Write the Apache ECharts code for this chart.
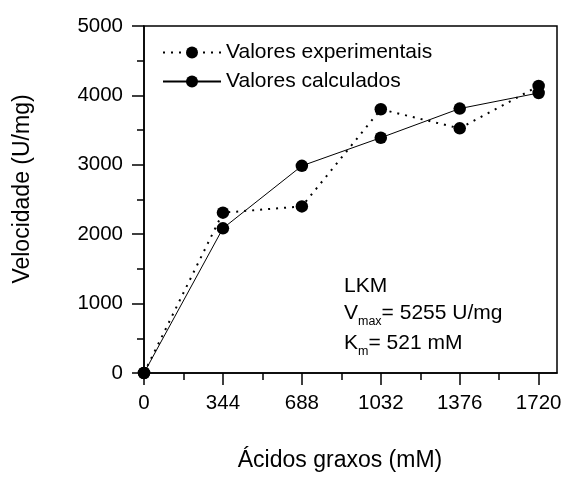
<!DOCTYPE html>
<html>
<head>
<meta charset="utf-8">
<script src="https://cdn.jsdelivr.net/npm/echarts@6/dist/echarts.min.js"></script>
<style>
  html, body { margin: 0; padding: 0; background: #fff; }
  #chart { width: 565px; height: 478px; }
</style>
</head>
<body>
<div id="chart"></div>
<script>
// Fatty-acid concentration (mM) and reaction velocity (U/mg)
const concentrations = [0, 344, 688, 1032, 1376, 1720];
const experimental = [0, 2310, 2400, 3800, 3525, 4135];
const calculated = [0, 2085, 2985, 3390, 3810, 4035];
const xMajorTicks = [0, 344, 688, 1032, 1376, 1720];
const xMinorTicks = [172, 516, 860, 1204, 1548];
const seriesNames = ['Valores experimentais', 'Valores calculados'];

const FONT = '"Liberation Sans", Arial, Helvetica, sans-serif';

const pairs = (xs, ys) => xs.map((x, i) => [x, ys[i]]);
const plain = v => String(v);

const gridBox = { left: 144, right: 8, top: 26, bottom: 105 };

const chart = echarts.init(document.getElementById('chart'));
chart.setOption({
  backgroundColor: '#fff',
  animation: false,
  textStyle: { fontFamily: FONT, color: '#000' },
  grid: [
    Object.assign({ show: true, borderColor: '#000', borderWidth: 1.5, backgroundColor: 'transparent' }, gridBox),
    Object.assign({ show: false }, gridBox)
  ],
  xAxis: [
    {
      type: 'value', gridIndex: 0, min: 0, max: 1800,
      axisLine: { show: true, onZero: false, lineStyle: { color: '#000', width: 1.5 } },
      axisTick: { show: true, inside: false, length: 12, customValues: xMajorTicks, lineStyle: { color: '#000', width: 1.5 } },
      axisLabel: { customValues: xMajorTicks, formatter: plain, margin: 20, fontSize: 20.5, fontFamily: FONT, color: '#000' },
      splitLine: { show: false }
    },
    {
      type: 'value', gridIndex: 1, min: 0, max: 1800,
      axisLine: { show: false },
      axisTick: { show: true, inside: false, length: 7, customValues: xMinorTicks, lineStyle: { color: '#000', width: 1.5 } },
      axisLabel: { show: false },
      splitLine: { show: false }
    }
  ],
  yAxis: [
    {
      type: 'value', gridIndex: 0, min: 0, max: 5000, interval: 1000,
      axisLine: { show: true, onZero: false, lineStyle: { color: '#000', width: 1.5 } },
      axisTick: { show: true, inside: false, length: 12, lineStyle: { color: '#000', width: 1.5 } },
      minorTick: { show: true, splitNumber: 2, length: 7, lineStyle: { color: '#000', width: 1.5 } },
      axisLabel: { formatter: plain, margin: 21, fontSize: 20.5, fontFamily: FONT, color: '#000' },
      splitLine: { show: false }
    },
    {
      type: 'value', gridIndex: 1, min: 0, max: 5000, show: false
    }
  ],
  legend: {
    data: seriesNames,
    orient: 'vertical',
    left: 157,
    top: 37,
    itemWidth: 58,
    itemHeight: 15,
    itemGap: 8,
    textStyle: { fontSize: 21, fontFamily: FONT, color: '#000' }
  },
  series: [
    {
      name: seriesNames[0],
      type: 'line',
      xAxisIndex: 0, yAxisIndex: 0,
      data: pairs(concentrations, experimental),
      symbol: 'circle', symbolSize: 12.5,
      itemStyle: { color: '#000' },
      lineStyle: { color: '#000', width: 2, type: [2, 6] },
      z: 3
    },
    {
      name: seriesNames[1],
      type: 'line',
      xAxisIndex: 0, yAxisIndex: 0,
      data: pairs(concentrations, calculated),
      symbol: 'circle', symbolSize: 12.5,
      itemStyle: { color: '#000' },
      lineStyle: { color: '#000', width: 1, type: 'solid' },
      z: 4
    }
  ],
  graphic: [
    {
      type: 'text', left: 344, top: 276,
      style: { text: 'LKM', font: '21px ' + FONT, fill: '#000' }
    },
    {
      type: 'text', left: 344, top: 303,
      style: {
        text: '{a|V}{s|max}{a|= 5255 U/mg}',
        font: '21px ' + FONT, fill: '#000',
        rich: {
          a: { fontSize: 21, fontFamily: FONT, lineHeight: 30, verticalAlign: 'middle' },
          s: { fontSize: 12.5, fontFamily: FONT, lineHeight: 8, verticalAlign: 'bottom' }
        }
      }
    },
    {
      type: 'text', left: 344, top: 333,
      style: {
        text: '{a|K}{s|m}{a|= 521 mM}',
        font: '21px ' + FONT, fill: '#000',
        rich: {
          a: { fontSize: 21, fontFamily: FONT, lineHeight: 30, verticalAlign: 'middle' },
          s: { fontSize: 12.5, fontFamily: FONT, lineHeight: 8, verticalAlign: 'bottom' }
        }
      }
    },
    {
      type: 'text', x: 340, y: 461,
      style: { text: 'Ácidos graxos (mM)', font: '23px ' + FONT, fill: '#000', align: 'center', verticalAlign: 'middle' }
    },
    {
      type: 'text', x: 23, y: 189, rotation: Math.PI / 2,
      style: { text: 'Velocidade (U/mg)', font: '23px ' + FONT, fill: '#000', align: 'center', verticalAlign: 'middle' }
    }
  ]
});
</script>
</body>
</html>
